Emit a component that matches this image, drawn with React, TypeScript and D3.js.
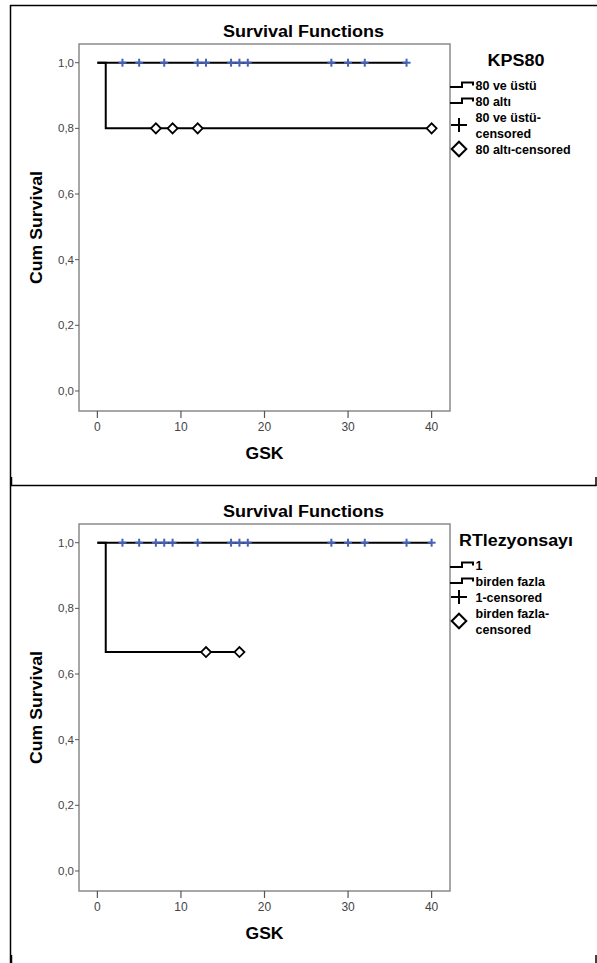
import React from 'react';
import * as d3 from 'd3';

const xTicks = [0, 10, 20, 30, 40];
const yTicks = [0, 0.2, 0.4, 0.6, 0.8, 1.0];
const xDomain = [-2.2, 42.2];
const yDomain = [-0.061, 1.057];

// Panel 1: KPS80
const kpsTitle = 'KPS80';
const kpsLegendLabels = [['80 ve üstü'], ['80 altı'], ['80 ve üstü-', 'censored'], ['80 altı-censored']];
const kpsHighEventTimes: number[] = [];
const kpsHighEventSurv: number[] = [];
const kpsHighCensored = [3, 5, 8, 12, 13, 16, 17, 18, 28, 30, 32, 37];
const kpsLowEventTimes = [1];
const kpsLowEventSurv = [0.8];
const kpsLowCensored = [7, 9, 12, 40];

// Panel 2: RTlezyonsayı
const rtTitle = 'RTlezyonsayı';
const rtLegendLabels = [['1'], ['birden fazla'], ['1-censored'], ['birden fazla-', 'censored']];
const rtOneEventTimes: number[] = [];
const rtOneEventSurv: number[] = [];
const rtOneCensored = [3, 5, 7, 8, 9, 12, 16, 17, 18, 28, 30, 32, 37, 40];
const rtMultiEventTimes = [1];
const rtMultiEventSurv = [0.667];
const rtMultiCensored = [13, 17];

const FONT = "'Liberation Sans', Arial, Helvetica, sans-serif";
const PLUS_COLOR = '#4561b9';

type Group = { eventTimes: number[]; eventSurv: number[]; censored: number[] };

function survAt(g: Group, t: number) {
  let s = 1;
  g.eventTimes.forEach((et, i) => {
    if (et <= t) s = g.eventSurv[i];
  });
  return s;
}

function stepPoints(g: Group) {
  const pts: [number, number][] = [[0, 1]];
  g.eventTimes.forEach((et, i) => pts.push([et, g.eventSurv[i]]));
  const end = Math.max(...g.censored, ...g.eventTimes, 0);
  pts.push([end, survAt(g, end)]);
  return pts;
}

function Panel({ oy, legendTitle, legendLabels, groups }: { oy: number; legendTitle: string; legendLabels: string[][]; groups: Group[] }) {
  const left = 79, right = 450, top = 44 + oy, bottom = 411 + oy;
  const x = d3.scaleLinear().domain(xDomain).range([left, right]);
  const y = d3.scaleLinear().domain(yDomain).range([bottom, top]);
  const line = d3.line<[number, number]>().x(d => x(d[0])).y(d => y(d[1])).curve(d3.curveStepAfter);

  // legend layout
  let cur = 89.5 + oy;
  const entries = legendLabels.map(lines => {
    const ys = lines.map((_, i) => cur + i * 16);
    cur += lines.length * 16;
    return ys;
  });

  return (
    <g>
      <text x={303.5} y={37.3 + oy} textAnchor="middle" fontFamily={FONT} fontWeight="bold" fontSize={16} textLength={161} lengthAdjust="spacingAndGlyphs">Survival Functions</text>
      <rect x={left} y={top} width={right - left} height={bottom - top} fill="white" stroke="#8a8a8a" strokeWidth={1.5} />
      {yTicks.map(t => (
        <g key={'y' + t}>
          <line x1={left - 4} x2={left} y1={y(t)} y2={y(t)} stroke="#555" strokeWidth={1} />
          <text x={left - 5} y={y(t) + 4} textAnchor="end" fontFamily={FONT} fontSize={11.5} fill="#444">{d3.format('.1f')(t).replace('.', ',')}</text>
        </g>
      ))}
      {xTicks.map(t => (
        <g key={'x' + t}>
          <line x1={x(t)} x2={x(t)} y1={bottom} y2={bottom + 7} stroke="#555" strokeWidth={1.2} />
          <text x={x(t)} y={bottom + 20} textAnchor="middle" fontFamily={FONT} fontSize={12} fill="#444">{t}</text>
        </g>
      ))}
      <text x={(left + right) / 2} y={459 + oy} textAnchor="middle" fontFamily={FONT} fontWeight="bold" fontSize={16} textLength={38} lengthAdjust="spacingAndGlyphs">GSK</text>
      <text transform={`translate(41.5,${(top + bottom) / 2}) rotate(-90)`} textAnchor="middle" fontFamily={FONT} fontWeight="bold" fontSize={16} textLength={113} lengthAdjust="spacingAndGlyphs">Cum Survival</text>

      {groups.map((g, i) => (
        <path key={'l' + i} d={line(stepPoints(g)) || ''} fill="none" stroke="black" strokeWidth={2} />
      ))}
      {groups[0].censored.map((t, j) => (
        <g key={'p' + j} stroke={PLUS_COLOR} strokeWidth={2}>
          <line x1={x(t) - 4} x2={x(t) + 4} y1={y(survAt(groups[0], t))} y2={y(survAt(groups[0], t))} />
          <line x1={x(t)} x2={x(t)} y1={y(survAt(groups[0], t)) - 4} y2={y(survAt(groups[0], t)) + 4} />
        </g>
      ))}
      {groups[1].censored.map((t, j) => {
        const cx = x(t), cy = y(survAt(groups[1], t));
        return <path key={'d' + j} d={`M${cx - 5},${cy} L${cx},${cy - 5} L${cx + 5},${cy} L${cx},${cy + 5} Z`} fill="white" stroke="black" strokeWidth={1.8} />;
      })}

      <text x={516} y={66 + oy} textAnchor="middle" fontFamily={FONT} fontWeight="bold" fontSize={16} textLength={legendTitle.length > 6 ? 114 : 57} lengthAdjust="spacingAndGlyphs">{legendTitle}</text>
      {entries.map((ys, i) => {
        const first = ys[0], last = ys[ys.length - 1];
        const mid = (first + last) / 2 - 4.5;
        let sym: React.ReactNode = null;
        if (i < 2) {
          sym = <path d={`M450,${first - 2.5} H462 V${first - 7} H473 V${first - 4}`} fill="none" stroke="black" strokeWidth={2} />;
        } else if (i === 2) {
          sym = (
            <g stroke="black" strokeWidth={2}>
              <line x1={451} x2={467} y1={mid} y2={mid} />
              <line x1={459} x2={459} y1={mid - 7} y2={mid + 7} />
            </g>
          );
        } else {
          sym = <path d={`M451.7,${mid} L459,${mid - 7.3} L466.3,${mid} L459,${mid + 7.3} Z`} fill="white" stroke="black" strokeWidth={2} />;
        }
        return (
          <g key={'e' + i}>
            {sym}
            {legendLabels[i].map((s, k) => (
              <text key={k} x={475.5} y={ys[k]} fontFamily={FONT} fontWeight="bold" fontSize={12.5}>{s}</text>
            ))}
          </g>
        );
      })}
    </g>
  );
}

export default function App() {
  const kpsGroups: Group[] = [
    { eventTimes: kpsHighEventTimes, eventSurv: kpsHighEventSurv, censored: kpsHighCensored },
    { eventTimes: kpsLowEventTimes, eventSurv: kpsLowEventSurv, censored: kpsLowCensored },
  ];
  const rtGroups: Group[] = [
    { eventTimes: rtOneEventTimes, eventSurv: rtOneEventSurv, censored: rtOneCensored },
    { eventTimes: rtMultiEventTimes, eventSurv: rtMultiEventSurv, censored: rtMultiCensored },
  ];
  return (
    <svg width={597} height={963} style={{ position: 'absolute', left: 0, top: 0, background: 'white' }}>
      <rect x={0} y={0} width={597} height={963} fill="white" />
      {/* table borders */}
      <line x1={10.5} x2={10.5} y1={5} y2={963} stroke="black" strokeWidth={1.5} />
      <line x1={10} x2={597} y1={5.5} y2={5.5} stroke="black" strokeWidth={1.5} />
      <line x1={10} x2={596.5} y1={485.5} y2={485.5} stroke="black" strokeWidth={1.5} />
      <line x1={596} x2={596} y1={477} y2={486} stroke="black" strokeWidth={1.5} />
      <line x1={11.5} x2={11.5} y1={477} y2={486} stroke="black" strokeWidth={1.5} />
      <line x1={596} x2={596} y1={955} y2={963} stroke="black" strokeWidth={1.5} />
      <line x1={11.5} x2={11.5} y1={955} y2={963} stroke="black" strokeWidth={1.5} />
      <Panel oy={0} legendTitle={kpsTitle} legendLabels={kpsLegendLabels} groups={kpsGroups} />
      <Panel oy={480} legendTitle={rtTitle} legendLabels={rtLegendLabels} groups={rtGroups} />
    </svg>
  );
}
